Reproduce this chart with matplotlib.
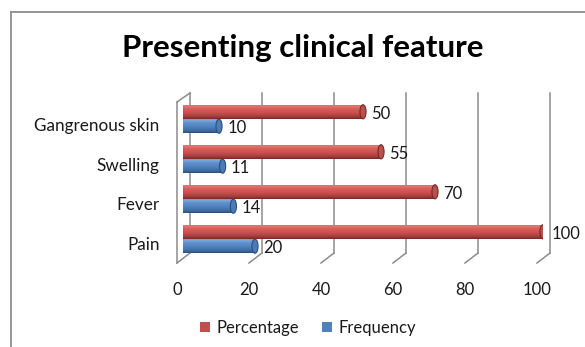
import numpy as np
import matplotlib
matplotlib.use("Agg")
import matplotlib.pyplot as plt
from matplotlib.colors import LinearSegmentedColormap
from matplotlib.lines import Line2D
from matplotlib.patches import Ellipse
from matplotlib.transforms import ScaledTranslation, blended_transform_factory

features = ["Pain", "Fever", "Swelling", "Gangrenous skin"]
percentage = [100, 70, 55, 50]
frequency = [20, 14, 11, 10]
xticks = [0, 20, 40, 60, 80, 100]

RED = "#C0504D"
BLUE = "#4F81BD"
GRID = "#8C8C8C"

plt.rcParams["font.family"] = ["Lato", "DejaVu Sans"]

W, H = 585, 347
fig = plt.figure(figsize=(W / 100, H / 100), dpi=100)
fig.patch.set_facecolor("white")

# plot area in pixels: bars from x=183 to 543, rows from y=98 to 258
ax = fig.add_axes([183 / W, 1 - 258 / H, 360 / W, 160 / H])
ax.set_xlim(0, 100)
ax.set_ylim(-0.475, 3.525)
for s in ax.spines.values():
    s.set_visible(False)
ax.patch.set_visible(False)

DX = 100 / 360   # x data units per pixel
DY = 1 / 160     # axes fraction per pixel
bt = blended_transform_factory(ax.transData, ax.transAxes)

# 3d box: back wall gridlines and floor edge
def seg(x0, y0, x1, y1):
    ax.add_line(Line2D([x0, x1], [y0, y1], transform=bt, color=GRID,
                       lw=1.1, clip_on=False, zorder=0))

for x in xticks:
    seg(x + 7 * DX, 5 * DY, x + 7 * DX, 1 + 5 * DY)
    seg(x + 7 * DX, 5 * DY, x - 6 * DX, -5 * DY)
seg(-6 * DX, -5 * DY, -6 * DX, 1 - 4 * DY)
seg(-6 * DX, 1 - 4 * DY, 7 * DX, 1 + 5 * DY)

y = np.arange(len(features))
h = 0.36
red_bars = ax.barh(y + h / 2, percentage, height=h, color=RED, label="Percentage", zorder=2)
blue_bars = ax.barh(y - h / 2, frequency, height=h, color=BLUE, label="Frequency", zorder=2)

red_cmap = LinearSegmentedColormap.from_list(
    "r", [(0, "#9A3936"), (0.1, "#E27C79"), (0.3, "#D8605D"), (0.62, "#C24E4B"),
          (0.85, "#A23C39"), (1, "#7A2724")])
blue_cmap = LinearSegmentedColormap.from_list(
    "b", [(0, "#3C6BA3"), (0.1, "#86ADDD"), (0.3, "#6293CE"), (0.62, "#4D7FBC"),
          (0.85, "#3D6A9F"), (1, "#2C4F7E")])
grad = np.linspace(0, 1, 64).reshape(-1, 1)

# cylinder shading and end caps
for bars, cmap, cap, edge in [(red_bars, red_cmap, "#B8504D", "#7A2724"),
                              (blue_bars, blue_cmap, "#4A7BB6", "#2C4F7E")]:
    for b in bars:
        x0, y0 = b.get_x(), b.get_y()
        w, hh = b.get_width(), b.get_height()
        im = ax.imshow(grad, cmap=cmap, aspect="auto", origin="upper",
                       extent=[x0, x0 + w, y0, y0 + hh], zorder=2.1)
        im.set_clip_path(b)
        ax.add_patch(Ellipse((x0 + w, y0 + hh / 2), 1.7, hh * 0.98,
                             facecolor=cap, edgecolor=edge, lw=0.8, zorder=2.2))

ax.set_xlim(0, 100)
ax.set_ylim(-0.475, 3.525)

for bars, vals in [(red_bars, percentage), (blue_bars, frequency)]:
    for t in ax.bar_label(bars, labels=[str(v) for v in vals], padding=6,
                          fontsize=12, color="#1a1a1a"):
        t.xyann = (t.xyann[0], -1.5)

ax.set_xticks(xticks)
ax.set_xticklabels([str(v) for v in xticks], fontsize=12, color="#1a1a1a")
ax.set_yticks(y)
ax.set_yticklabels(features, fontsize=12.3, color="#1a1a1a")
ax.tick_params(axis="x", length=0, pad=17)
ax.tick_params(axis="y", length=0, pad=17)
for lab in ax.get_xticklabels():
    lab.set_transform(lab.get_transform() + ScaledTranslation(-0.06, 0, fig.dpi_scale_trans))
for lab in ax.get_yticklabels():
    lab.set_transform(lab.get_transform() + ScaledTranslation(0, -0.05, fig.dpi_scale_trans))

fig.text(303 / W, 1 - 48 / H, "Presenting clinical feature", ha="center", va="center",
         fontsize=22.5, fontweight="bold", color="black")

fig.legend(handles=[red_bars, blue_bars], loc="center", bbox_to_anchor=(308 / W, 1 - 328 / H),
           ncol=2, frameon=False, fontsize=12, handlelength=0.6, handleheight=0.6,
           handletextpad=0.4, columnspacing=1.4, labelcolor="#1a1a1a")

# chart frame
fig.add_artist(Line2D([11 / W, 11 / W], [0, 1 - 12 / H], transform=fig.transFigure, color="#8C8C8C", lw=1.3))
fig.add_artist(Line2D([11 / W, 1], [1 - 12 / H, 1 - 12 / H], transform=fig.transFigure, color="#8C8C8C", lw=1.3))

fig.savefig("out.png", dpi=100, facecolor="white")
